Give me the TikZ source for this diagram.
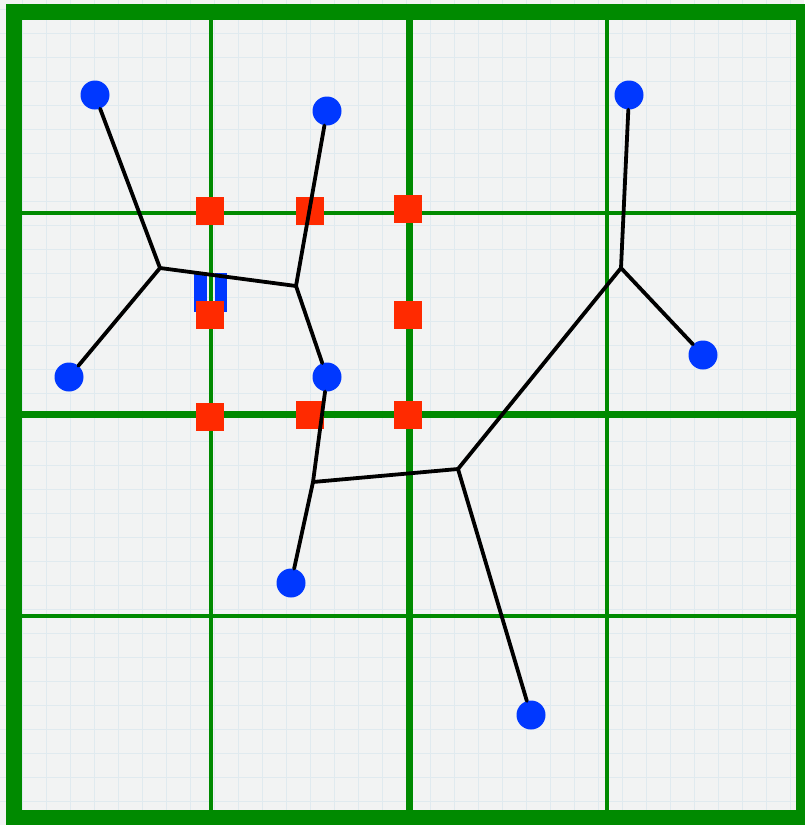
\documentclass[tikz,border=0pt]{standalone}
\definecolor{gridgreen}{RGB}{0,138,0}
\definecolor{sqred}{RGB}{255,42,0}
\definecolor{dotblue}{RGB}{0,56,255}
\definecolor{paper}{RGB}{242,243,243}
\definecolor{faint}{RGB}{224,234,239}
\tikzset{
  term/.style={circle,fill=dotblue,inner sep=0pt,minimum size=29pt},
  mark sq/.style={fill=sqred,inner sep=0pt,minimum size=28pt},
  wire/.style={line width=3.8pt,black,line cap=round,line join=round},
  thin green/.style={gridgreen,line width=3.5pt},
  mid green/.style={gridgreen,line width=7pt},
  frame green/.style={gridgreen,line width=16pt},
}
\begin{document}
\begin{tikzpicture}[x=1pt,y=-1pt]
\useasboundingbox (0,0) rectangle (804,825);
\fill[paper] (0,0) rectangle (804,825);
\foreach \i in {0,...,34} {
  \draw[faint,line width=1pt] (\i*24-2,0) -- (\i*24-2,825);
  \draw[faint,line width=1pt] (0,\i*24+9) -- (804,\i*24+9);
}
% green grid
\draw[thin green] (211,12) -- (211,818);
\draw[thin green] (607,12) -- (607,818);
\draw[thin green] (14,213) -- (804,213);
\draw[thin green] (14,616) -- (804,616);
\draw[mid green] (409,12) -- (409,818);
\draw[mid green] (14,414) -- (804,414);
\draw[frame green] (14,12) rectangle (804,818);
% blue marker
\fill[dotblue] (194,273) rectangle (207,312);
\fill[dotblue] (215,273) rectangle (227,312);
% red squares
\node[mark sq] (s1) at (210,211) {};
\node[mark sq] (s2) at (310,211) {};
\node[mark sq] (s3) at (408,209) {};
\node[mark sq] (s4) at (210,315) {};
\node[mark sq] (s5) at (408,315) {};
\node[mark sq] (s6) at (210,417) {};
\node[mark sq] (s7) at (310,415) {};
\node[mark sq] (s8) at (408,415) {};
% junctions
\coordinate (j1) at (160,268);
\coordinate (j2) at (296,286);
\coordinate (j3) at (313,482);
\coordinate (j4) at (458,469);
\coordinate (j5) at (621,268);
% terminals
\node[term] (a) at (95,95) {};
\node[term] (b) at (327,111) {};
\node[term] (c) at (629,95) {};
\node[term] (d) at (69,377) {};
\node[term] (e) at (327,377) {};
\node[term] (f) at (703,355) {};
\node[term] (g) at (291,583) {};
\node[term] (h) at (531,715) {};
% wires
\draw[wire] (a) -- (j1) -- (d);
\draw[wire] (j1) -- (j2) -- (b);
\draw[wire] (j2) -- (e);
\draw[wire] (e) -- (j3) -- (g);
\draw[wire] (j3) -- (j4) -- (j5) -- (c);
\draw[wire] (j5) -- (f);
\draw[wire] (j4) -- (h);
\end{tikzpicture}
\end{document}
